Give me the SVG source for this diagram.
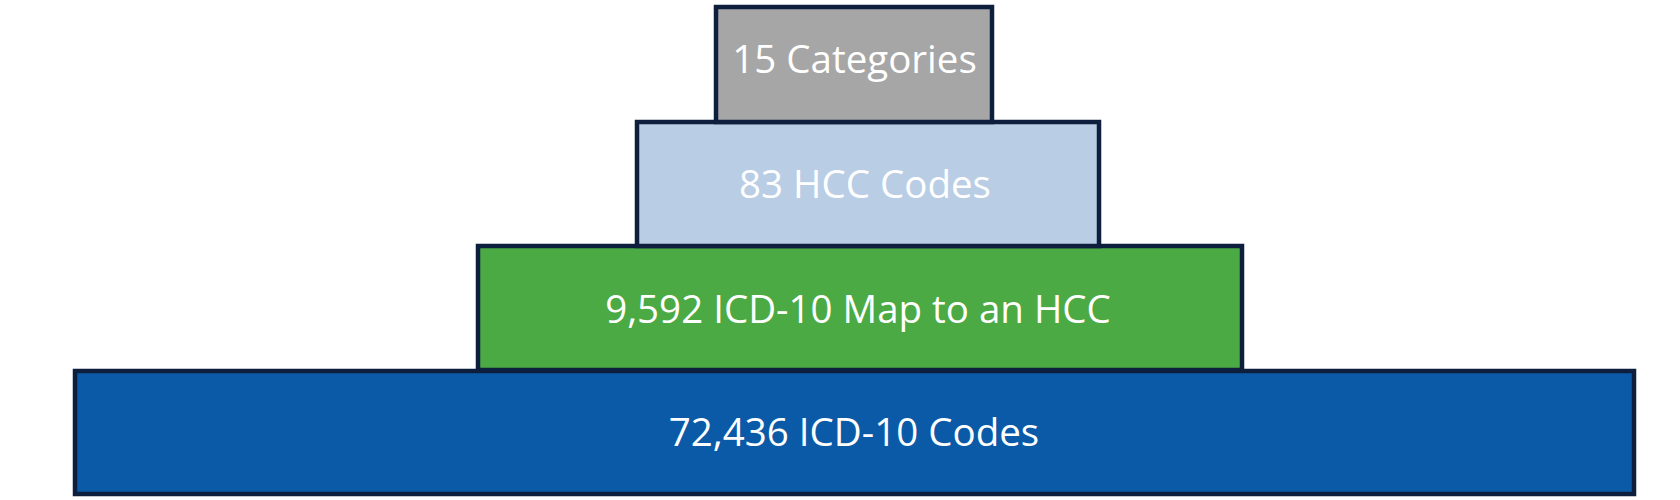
<svg xmlns="http://www.w3.org/2000/svg" width="1680" height="500" viewBox="0 0 1680 500">
<style>
.box{stroke:#0E1F3D;stroke-width:4.5}
.lbl{font-family:"Open Sans","Noto Sans","Liberation Sans",sans-serif;font-size:38.5px;fill:#FFFFFF;text-anchor:middle}
</style>
<rect width="1680" height="500" fill="#FFFFFF"/>
<g id="node-icd10">
<rect class="box" x="75" y="371" width="1559" height="123" fill="#0A5AA8"/>
<text class="lbl" x="854" y="445.5">72,436 ICD-10 Codes</text>
</g>
<g id="node-map">
<rect class="box" x="478" y="246" width="764" height="124" fill="#4BAA43"/>
<text class="lbl" x="858" y="322.5">9,592 ICD-10 Map to an HCC</text>
</g>
<g id="node-hcc">
<rect class="box" x="637" y="122" width="462" height="124" fill="#B9CDE5"/>
<text class="lbl" x="865" y="197.5">83 HCC Codes</text>
</g>
<g id="node-categories">
<rect class="box" x="716" y="7" width="276" height="115" fill="#A6A6A6"/>
<text class="lbl" x="854.5" y="72.5">15 Categories</text>
</g>
<g id="connectors"/>
</svg>
